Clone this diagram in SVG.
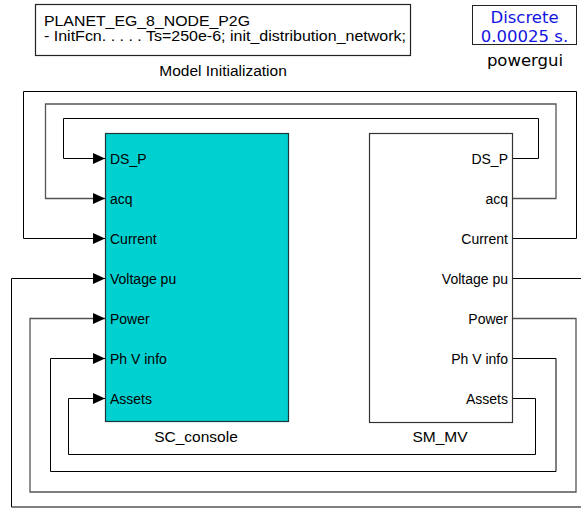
<svg xmlns="http://www.w3.org/2000/svg" width="581" height="509" viewBox="0 0 581 509">
<style>
  .lbl { font-family: "Liberation Sans", Arial, sans-serif; font-size: 14px; fill: #000; }
  .name { font-family: "Liberation Sans", Arial, sans-serif; font-size: 15.5px; fill: #000; text-anchor: middle; }
  .top { font-family: "Liberation Sans", Arial, sans-serif; font-size: 15px; fill: #000; }
  .pg { font-family: "DejaVu Sans", Verdana, sans-serif; font-size: 16.5px; text-anchor: middle; }
  .wire { fill: none; stroke: #000; stroke-width: 1; }
  .wire2 { fill: none; stroke: #555; stroke-width: 1.3; }
</style>
<defs>
  <marker id="arr" markerUnits="userSpaceOnUse" markerWidth="12" markerHeight="12" refX="12" refY="5.5" orient="auto">
    <path d="M0,0 L12,5.5 L0,11 Z" fill="#000"/>
  </marker>
</defs>
<rect width="581" height="509" fill="#fff"/>

<g id="model-init">
  <rect x="35.5" y="4.5" width="375" height="51" fill="#fff" stroke="#222" stroke-width="1.2"/>
  <text class="top" x="44" y="25.5" textLength="206" lengthAdjust="spacingAndGlyphs">PLANET_EG_8_NODE_P2G</text>
  <text class="top" x="44" y="41" textLength="362" lengthAdjust="spacingAndGlyphs">- InitFcn. . . . . Ts=250e-6; init_distribution_network;</text>
  <text class="name" x="223" y="75.5">Model Initialization</text>
</g>

<g id="powergui">
  <rect x="472.5" y="5.5" width="104" height="39" fill="#fff" stroke="#222" stroke-width="1"/>
  <text class="pg" x="524.5" y="22.5" fill="#1515e0">Discrete</text>
  <text class="pg" x="524.5" y="42" fill="#1515e0">0.00025 s.</text>
  <text class="pg" x="525" y="65.5" fill="#000">powergui</text>
</g>

<g id="connectors">
  <path class="wire" d="M513,158.5 H538.5 V118.5 H63.5 V158.5 H105" marker-end="url(#arr)"/>
  <path class="wire2" d="M513,198.5 H556 V104 H45.5 V198.5 H105" marker-end="url(#arr)"/>
  <path class="wire" d="M513,238.5 H576.5 V91.5 H23.5 V238.5 H105" marker-end="url(#arr)"/>
  <path class="wire" d="M513,278.5 H600 V507 H11.5 V278.5 H105" marker-end="url(#arr)"/>
  <path class="wire2" d="M513,318.5 H576 V492 H30 V318.5 H105" marker-end="url(#arr)"/>
  <path class="wire" d="M513,358.5 H556 V471.5 H50.5 V358.5 H105" marker-end="url(#arr)"/>
  <path class="wire" d="M513,398.5 H535.5 V454.5 H68.5 V398.5 H105" marker-end="url(#arr)"/>
</g>

<g id="SC_console">
  <rect x="105.5" y="133.5" width="183" height="288" fill="#00d0d0" stroke="#1c3838" stroke-width="1.2"/>
  <text class="lbl" x="110" y="163.5">DS_P</text>
  <text class="lbl" x="110" y="203.5">acq</text>
  <text class="lbl" x="110" y="243.5">Current</text>
  <text class="lbl" x="110" y="283.5">Voltage pu</text>
  <text class="lbl" x="110" y="323.5">Power</text>
  <text class="lbl" x="110" y="363.5">Ph V info</text>
  <text class="lbl" x="110" y="403.5">Assets</text>
  <text class="name" x="196" y="442">SC_console</text>
</g>

<g id="SM_MV">
  <rect x="369.5" y="133.5" width="143" height="289" fill="#fff" stroke="#333" stroke-width="1.2"/>
  <text class="lbl" x="508" y="163.5" text-anchor="end">DS_P</text>
  <text class="lbl" x="508" y="203.5" text-anchor="end">acq</text>
  <text class="lbl" x="508" y="243.5" text-anchor="end">Current</text>
  <text class="lbl" x="508" y="283.5" text-anchor="end">Voltage pu</text>
  <text class="lbl" x="508" y="323.5" text-anchor="end">Power</text>
  <text class="lbl" x="508" y="363.5" text-anchor="end">Ph V info</text>
  <text class="lbl" x="508" y="403.5" text-anchor="end">Assets</text>
  <text class="name" x="440" y="442">SM_MV</text>
</g>
</svg>
